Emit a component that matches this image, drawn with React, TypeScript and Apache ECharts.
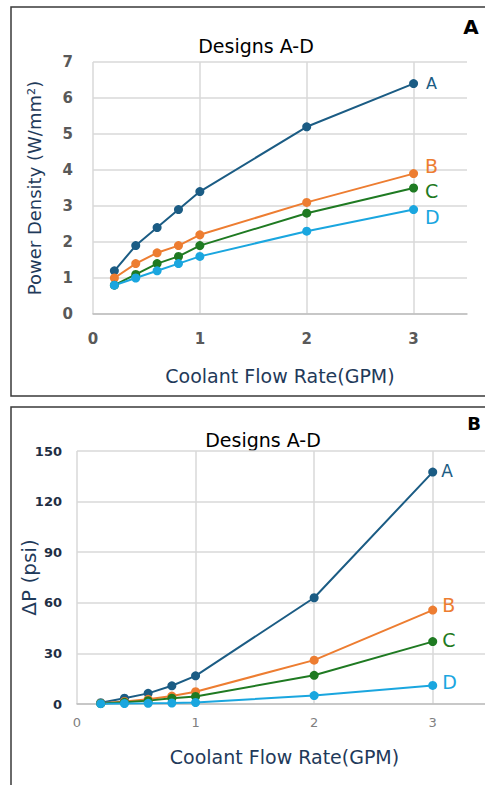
import React, { useEffect, useRef } from "react";
import * as echarts from "echarts";

const flowRates = [0.2, 0.4, 0.6, 0.8, 1, 2, 3];
const seriesNames = ["A", "B", "C", "D"];
const seriesColors = ["#1B5C84", "#ED7D31", "#1F7A22", "#1AA6DF"];

const powerA = [1.2, 1.9, 2.4, 2.9, 3.4, 5.2, 6.4];
const powerB = [1.0, 1.4, 1.7, 1.9, 2.2, 3.1, 3.9];
const powerC = [0.8, 1.1, 1.4, 1.6, 1.9, 2.8, 3.5];
const powerD = [0.8, 1.0, 1.2, 1.4, 1.6, 2.3, 2.9];

const dpA = [0.8, 3.4, 6.3, 10.8, 16.7, 63, 137.5];
const dpB = [0.5, 1.5, 2.8, 4.7, 7.3, 26, 55.7];
const dpC = [0.3, 1.0, 2.0, 3.4, 4.5, 17, 37];
const dpD = [0.2, 0.3, 0.4, 0.6, 0.9, 5, 11];

const powerSets = [powerA, powerB, powerC, powerD];
const dpSets = [dpA, dpB, dpC, dpD];

const powerLabelOffsets = [[0, 0], [-1, -8], [-1, 3], [-1, 7]];
const dpLabelOffsets = [[-4, -1], [-3, -5], [-3, -2], [-3, -3]];
const powerLabelSizes = [16, 19, 19, 19];
const dpLabelSizes = [17, 19, 19, 19];

const FONT = "'DejaVu Sans', 'Noto Sans', sans-serif";

function buildSeries(sets: number[][], offsets: number[][], sizes: number[], axisIndex: number) {
  return sets.map((vals, i) => ({
    type: "line",
    name: seriesNames[i] + axisIndex,
    xAxisIndex: axisIndex,
    yAxisIndex: axisIndex,
    symbol: "circle",
    symbolSize: 9,
    lineStyle: { width: 2, color: seriesColors[i] },
    itemStyle: { color: seriesColors[i] },
    data: vals.map((v, j) => {
      const pt: any = { value: [flowRates[j], v] };
      if (j === vals.length - 1) {
        pt.label = {
          show: true,
          position: "right",
          formatter: seriesNames[i],
          color: seriesColors[i],
          fontSize: sizes[i],
          fontFamily: FONT,
          distance: 8,
          offset: offsets[i],
        };
      }
      return pt;
    }),
  }));
}

export default function App() {
  const ref = useRef<HTMLDivElement>(null);
  useEffect(() => {
    if (!ref.current) return;
    const chart = echarts.init(ref.current, undefined, { renderer: "svg" });
    const gridColor = "#D9D9D9";
    const navy = "#1F3A5A";
    chart.setOption({
      animation: false,
      backgroundColor: "#ffffff",
      grid: [
        { left: 93, top: 62, width: 374, height: 252, containLabel: false, outerBoundsMode: "none" },
        { left: 77, top: 451, width: 415, height: 253, containLabel: false, outerBoundsMode: "none" },
      ],
      xAxis: [
        {
          type: "value",
          gridIndex: 0,
          min: 0,
          max: 3.5,
          interval: 1,
          name: "Coolant Flow Rate(GPM)",
          nameLocation: "middle",
          nameGap: 52,
          nameMoveOverlap: false,
          nameTextStyle: { color: navy, fontSize: 19, fontFamily: FONT },
          axisLine: { show: true, lineStyle: { color: "#BFBFBF", width: 1.5 } },
          axisTick: { show: false },
          axisLabel: {
            color: "#595959",
            fontWeight: "bold",
            fontSize: 15,
            fontFamily: FONT,
            margin: 17,
            showMaxLabel: false,
          },
          splitLine: { show: true, showMaxLine: false, lineStyle: { color: gridColor, width: 1.5 } },
        },
        {
          type: "value",
          gridIndex: 1,
          min: 0,
          max: 3.5,
          interval: 1,
          name: "Coolant Flow Rate(GPM)",
          nameLocation: "middle",
          nameGap: 43,
          nameMoveOverlap: false,
          nameTextStyle: { color: navy, fontSize: 19, fontFamily: FONT },
          axisLine: { show: true, lineStyle: { color: "#BFBFBF", width: 1.5 } },
          axisTick: { show: false },
          axisLabel: {
            color: "#7F7F7F",
            fontSize: 13,
            fontFamily: FONT,
            margin: 12,
            showMaxLabel: false,
          },
          splitLine: { show: true, showMaxLine: false, lineStyle: { color: gridColor, width: 1.5 } },
        },
      ],
      yAxis: [
        {
          type: "value",
          gridIndex: 0,
          min: 0,
          max: 7,
          interval: 1,
          name: "Power Density (W/mm²)",
          nameLocation: "middle",
          nameGap: 50,
          nameMoveOverlap: false,
          nameTextStyle: { color: navy, fontSize: 18, fontFamily: FONT },
          axisLine: { show: false },
          axisTick: { show: false },
          axisLabel: {
            color: "#595959",
            fontWeight: "bold",
            fontSize: 15,
            fontFamily: FONT,
            margin: 20,
          },
          splitLine: { show: true, lineStyle: { color: gridColor, width: 1.5 } },
        },
        {
          type: "value",
          gridIndex: 1,
          min: 0,
          max: 150,
          interval: 30,
          name: "ΔP (psi)",
          nameLocation: "middle",
          nameGap: 38,
          nameMoveOverlap: false,
          nameTextStyle: { color: navy, fontSize: 20, fontFamily: FONT },
          axisLine: { show: false },
          axisTick: { show: false },
          axisLabel: {
            color: "#1F2F45",
            fontWeight: "bold",
            fontSize: 13,
            fontFamily: FONT,
            margin: 15,
          },
          splitLine: { show: true, lineStyle: { color: gridColor, width: 1.5 } },
        },
      ],
      graphic: [
        {
          type: "rect",
          shape: { x: 11, y: 7, width: 476, height: 389 },
          style: { fill: "none", stroke: "#3A3A3A", lineWidth: 1.5 },
          silent: true,
        },
        {
          type: "rect",
          shape: { x: 11, y: 407, width: 480, height: 400 },
          style: { fill: "none", stroke: "#3A3A3A", lineWidth: 1.5 },
          silent: true,
        },
        {
          type: "text",
          x: 256,
          y: 46,
          style: {
            text: "Designs A-D",
            textAlign: "center",
            textVerticalAlign: "middle",
            fontSize: 19,
            fontFamily: FONT,
            fill: "#000000",
          },
        },
        {
          type: "text",
          x: 263,
          y: 440,
          style: {
            text: "Designs A-D",
            textAlign: "center",
            textVerticalAlign: "middle",
            fontSize: 19,
            fontFamily: FONT,
            fill: "#000000",
          },
        },
        {
          type: "text",
          x: 471,
          y: 27,
          style: {
            text: "A",
            textAlign: "center",
            textVerticalAlign: "middle",
            fontSize: 20,
            fontWeight: "bold",
            fontFamily: FONT,
            fill: "#000000",
          },
        },
        {
          type: "text",
          x: 474,
          y: 423,
          style: {
            text: "B",
            textAlign: "center",
            textVerticalAlign: "middle",
            fontSize: 18,
            fontWeight: "bold",
            fontFamily: FONT,
            fill: "#000000",
          },
        },
      ],
      series: [
        ...buildSeries(powerSets, powerLabelOffsets, powerLabelSizes, 0),
        ...buildSeries(dpSets, dpLabelOffsets, dpLabelSizes, 1),
      ],
    });
    return () => chart.dispose();
  }, []);
  return (
    <div
      ref={ref}
      style={{ position: "fixed", left: 0, top: 0, width: 485, height: 785, background: "#fff" }}
    />
  );
}
